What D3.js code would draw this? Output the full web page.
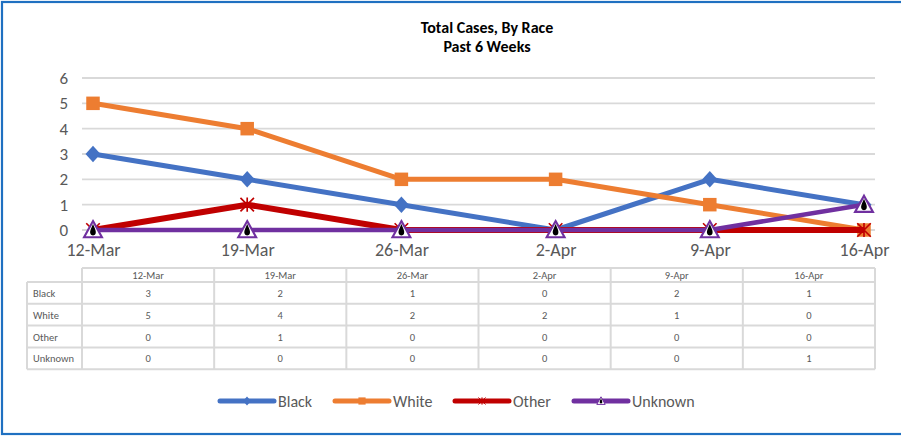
<!DOCTYPE html>
<html>
<head>
<meta charset="utf-8">
<script src="https://cdn.jsdelivr.net/npm/d3@7"></script>
<style>
    body { margin: 0; background: #fff; }
    svg { display: block; font-family: Carlito, "Liberation Sans", Arial, sans-serif; }
</style>
</head>
<body>
<div id="chart"></div>
<script>
// * * * data * * *
let weeks = ["12-Mar", "19-Mar", "26-Mar", "2-Apr", "9-Apr", "16-Apr"];
let races = ["Black", "White", "Other", "Unknown"];
let black = [3, 2, 1, 0, 2, 1];
let white = [5, 4, 2, 2, 1, 0];
let other = [0, 1, 0, 0, 0, 0];
let unknown = [0, 0, 0, 0, 0, 1];
let yTicks = [0, 1, 2, 3, 4, 5, 6];

let seriesValues = {Black: black, White: white, Other: other, Unknown: unknown};
let colors = {Black: "#4472C4", White: "#ED7D31", Other: "#C00000", Unknown: "#7030A0"};
let lineWidths = {Black: 5, White: 5, Other: 6, Unknown: 4.5};

let width = 901, height = 436;
let plot = {left: 82, right: 875, top: 78, bottom: 230};
let font = "Carlito, 'Liberation Sans', Arial, sans-serif";

let svg = d3.select("#chart").append("svg")
    .attr("width", width)
    .attr("height", height);

svg.append("rect")
    .attr("width", width).attr("height", height)
    .attr("fill", "#fff");

// outer border (right edge is cut off in the picture)
svg.append("rect")
    .attr("x", 2).attr("y", 2)
    .attr("width", width + 10).attr("height", height - 4)
    .attr("fill", "none")
    .attr("stroke", "#1F70C1")
    .attr("stroke-width", 2.2);

// title
svg.append("text")
    .attr("x", 487).attr("y", 33)
    .attr("text-anchor", "middle")
    .style("font-size", "16px").style("font-weight", "bold")
    .text("Total Cases, By Race");
svg.append("text")
    .attr("x", 487).attr("y", 52)
    .attr("text-anchor", "middle")
    .style("font-size", "16px").style("font-weight", "bold")
    .text("Past 6 Weeks");

// scales
let x = d3.scalePoint().domain(weeks).range([93, 864]);
let y = d3.scaleLinear().domain([0, 6]).range([plot.bottom, plot.top]);

// gridlines
svg.append("g").selectAll("line")
    .data(yTicks)
    .enter().append("line")
    .attr("x1", plot.left).attr("x2", plot.right)
    .attr("y1", d => y(d)).attr("y2", d => y(d))
    .attr("stroke", "#D9D9D9")
    .attr("stroke-width", 1.8);

// y axis labels
let yAxis = d3.axisLeft(y).tickValues(yTicks).tickFormat(d3.format("d")).tickSize(0).tickPadding(0);
let yG = svg.append("g")
    .attr("transform", "translate(68,0)")
    .call(yAxis);
yG.select(".domain").remove();
yG.selectAll("text")
    .attr("fill", "#595959")
    .style("font-size", "17px")
    .style("font-family", font);

// x axis labels
let xAxis = d3.axisBottom(x).tickSize(0).tickPadding(0);
let xG = svg.append("g")
    .attr("transform", "translate(0,243)")
    .call(xAxis);
xG.select(".domain").remove();
xG.selectAll("text")
    .attr("fill", "#595959")
    .style("font-size", "18px")
    .style("font-family", font);

// marker shapes
function drawMarker(g, race, size) {
    let s = size;
    if (race == "Black") {
        g.append("path")
            .attr("d", `M0,${-s * 0.55}L${s * 0.5},0L0,${s * 0.55}L${-s * 0.5},0Z`)
            .attr("fill", colors.Black);
    } else if (race == "White") {
        g.append("rect")
            .attr("x", -s * 0.45).attr("y", -s * 0.45)
            .attr("width", s * 0.9).attr("height", s * 0.9)
            .attr("fill", colors.White);
    } else if (race == "Other") {
        let r = s * 0.45;
        g.append("path")
            .attr("d", `M${-r},${-r}L${r},${r}M${-r},${r}L${r},${-r}M0,${-r * 1.05}L0,${r * 1.05}`)
            .attr("stroke", colors.Other)
            .attr("stroke-width", s / 9)
            .attr("fill", "none");
    } else {
        let r = s * 0.5;
        g.append("path")
            .attr("d", `M0,${-r * 1.05}L${r * 1.05},${r * 0.85}L${-r * 1.05},${r * 0.85}Z`)
            .attr("fill", "#fff")
            .attr("stroke", colors.Unknown)
            .attr("stroke-width", s / 8);
        // black drop inside the triangle
        g.append("path")
            .attr("d", `M0,${-r * 0.7}C${r * 0.2},${-r * 0.2} ${r * 0.42},${r * 0.15} ${r * 0.3},${r * 0.45}` +
                `C${r * 0.2},${r * 0.72} ${-r * 0.2},${r * 0.72} ${-r * 0.3},${r * 0.45}` +
                `C${-r * 0.42},${r * 0.15} ${-r * 0.2},${-r * 0.2} 0,${-r * 0.7}Z`)
            .attr("fill", "#000");
    }
}

// series lines and markers
let line = d3.line()
    .x(d => x(d.week))
    .y(d => y(d.value));

races.forEach(race => {
    let pts = weeks.map((w, i) => ({week: w, value: seriesValues[race][i]}));
    svg.append("path")
        .datum(pts)
        .attr("d", line)
        .attr("fill", "none")
        .attr("stroke", colors[race])
        .attr("stroke-width", lineWidths[race])
        .attr("stroke-linejoin", "round");
    pts.forEach(p => {
        let g = svg.append("g")
            .attr("transform", `translate(${x(p.week)},${y(p.value)})`);
        drawMarker(g, race, race == "Unknown" ? 17 : 15);
    });
});

// data table
let table = {left: 27, colStart: 82, right: 875, top: 268, headH: 14, rowH: 21.8};
let col = d3.scaleBand().domain(weeks).range([table.colStart, table.right]);
let tableBottom = table.top + table.headH + races.length * table.rowH;
let tg = svg.append("g");

let rowY = (i) => table.top + table.headH + i * table.rowH;

// horizontal lines
tg.append("line")
    .attr("x1", table.colStart).attr("x2", table.right)
    .attr("y1", table.top).attr("y2", table.top);
d3.range(races.length + 1).forEach(i => {
    tg.append("line")
        .attr("x1", table.left).attr("x2", table.right)
        .attr("y1", rowY(i)).attr("y2", rowY(i));
});
// vertical lines
tg.append("line")
    .attr("x1", table.left).attr("x2", table.left)
    .attr("y1", rowY(0)).attr("y2", tableBottom);
weeks.concat(["end"]).forEach((w, i) => {
    let xx = i < weeks.length ? col(w) : table.right;
    tg.append("line")
        .attr("x1", xx).attr("x2", xx)
        .attr("y1", table.top).attr("y2", tableBottom);
});
tg.selectAll("line")
    .attr("stroke", "#D9D9D9")
    .attr("stroke-width", 2);

// header labels
tg.selectAll(".head")
    .data(weeks)
    .enter().append("text")
    .attr("class", "head")
    .attr("x", d => col(d) + col.bandwidth() / 2)
    .attr("y", table.top + 11)
    .attr("text-anchor", "middle")
    .attr("fill", "#595959")
    .style("font-size", "10.5px")
    .text(d => d);

races.forEach((race, r) => {
    tg.append("text")
        .attr("x", 33)
        .attr("y", rowY(r) + 15)
        .attr("fill", "#595959")
        .style("font-size", "10.5px")
        .text(race);
    weeks.forEach((w, i) => {
        tg.append("text")
            .attr("x", col(w) + col.bandwidth() / 2)
            .attr("y", rowY(r) + 15)
            .attr("text-anchor", "middle")
            .attr("fill", "#595959")
            .style("font-size", "10.5px")
            .text(seriesValues[race][i]);
    });
});

// legend
let legendX = {Black: 219, White: 334, Other: 454, Unknown: 573};
races.forEach(race => {
    let lg = svg.append("g")
        .attr("transform", `translate(${legendX[race]},401)`);
    lg.append("line")
        .attr("x1", 1).attr("x2", 55)
        .attr("y1", 0).attr("y2", 0)
        .attr("stroke", colors[race])
        .attr("stroke-width", 5)
        .attr("stroke-linecap", "round");
    let mg = lg.append("g").attr("transform", "translate(28,0)");
    drawMarker(mg, race, 8);
    lg.append("text")
        .attr("x", 59).attr("y", 5.5)
        .attr("fill", "#595959")
        .style("font-size", "16px")
        .text(race);
});
</script>
</body>
</html>
